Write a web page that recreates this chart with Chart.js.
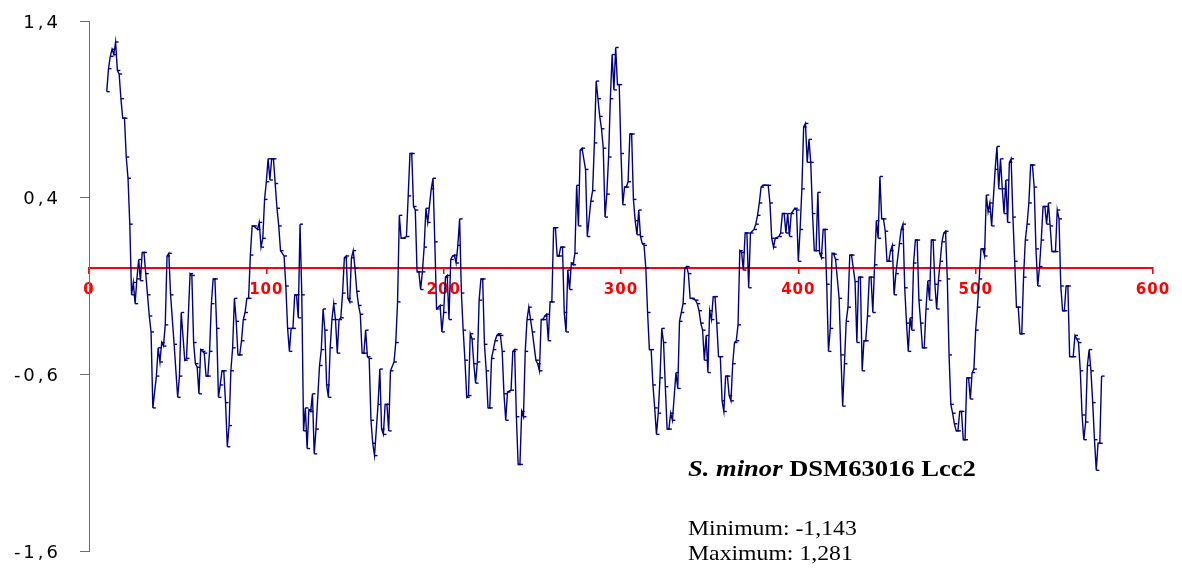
<!DOCTYPE html>
<html>
<head>
<meta charset="utf-8">
<title>Hydropathy profile</title>
<script src="https://cdn.jsdelivr.net/npm/chart.js@4/dist/chart.umd.min.js"></script>
<style>
  html, body { margin: 0; padding: 0; background: #ffffff; }
  #wrap { position: relative; width: 1182px; height: 571px; }
  canvas { display: block; }
</style>
</head>
<body>
<div id="wrap"><canvas id="plot" width="1182" height="571"></canvas></div>
<script>
// Hydropathy score per residue window centre; null = no point drawn (line spans over it)
const firstResidue = 10;
const scores = [
  1.00, 1.13, 1.20, 1.24, 1.21, 1.281, 1.12, 1.10, 0.96, 0.85,
  0.85, 0.63, 0.51, 0.25, -0.15, -0.08, -0.20, -0.06, 0.05, -0.07,
  0.09, 0.09, -0.03, -0.15, -0.27, -0.36, -0.79, null, -0.61, -0.45,
  -0.53, -0.42, -0.44, -0.32, 0.07, 0.085, -0.15, null, -0.43, null,
  -0.73, -0.61, -0.25, null, -0.52, -0.51, null, -0.03, -0.04, -0.42,
  -0.54, -0.56, -0.71, -0.46, -0.47, -0.48, -0.61, -0.61, -0.47, -0.20,
  -0.06, -0.06, -0.34, -0.73, -0.66, -0.58, -0.58, -0.76, -1.01, -0.89,
  -0.58, -0.45, -0.17, -0.30, -0.49, -0.49, -0.41, -0.29, -0.25, -0.17,
  -0.17, 0.075, 0.24, 0.24, null, 0.22, 0.26, 0.12, 0.17, 0.39,
  0.49, 0.62, 0.50, 0.62, 0.62, 0.48, 0.34, 0.24, 0.10, null,
  0.07, -0.10, -0.34, -0.47, -0.34, -0.34, -0.15, -0.15, -0.28, 0.25,
  -0.15, -0.92, -0.79, -1.02, -0.80, -0.81, -0.71, -1.05, -0.91, null,
  -0.55, -0.46, -0.23, -0.35, -0.66, -0.73, -0.45, -0.29, -0.20, -0.29,
  -0.48, -0.29, -0.28, -0.14, 0.06, 0.07, -0.17, -0.19, 0.06, 0.10,
  0.00, -0.13, -0.21, -0.26, -0.48, -0.48, -0.35, -0.50, -0.51, -0.86,
  -0.99, -1.06, null, -0.77, -0.57, -0.91, -0.94, -0.77, -0.77, -0.92,
  -0.58, null, -0.53, -0.42, -0.19, 0.30, 0.17, 0.17, null, 0.18,
  0.41, 0.65, 0.65, 0.35, 0.33, -0.02, -0.02, -0.12, -0.02, 0.12,
  0.34, 0.26, null, 0.45, 0.51, 0.15, -0.23, null, -0.21, -0.36,
  -0.25, -0.05, -0.04, -0.29, 0.05, 0.07, 0.075, 0.03, 0.13, 0.28,
  -0.14, -0.35, -0.52, -0.73, -0.72, -0.37, -0.40, -0.54, -0.65, -0.53,
  -0.18, -0.06, -0.06, -0.43, -0.58, -0.79, -0.79, -0.51, -0.46, -0.41,
  -0.38, -0.37, -0.38, -0.47, -0.71, -0.86, -0.70, null, -0.69, -0.47,
  -0.46, -0.84, -1.11, -1.11, -0.81, -0.84, -0.47, -0.29, -0.22, -0.29,
  -0.36, null, -0.52, -0.54, -0.58, -0.29, -0.29, -0.27, -0.26, -0.41,
  -0.19, -0.19, 0.23, 0.23, 0.07, 0.07, 0.12, 0.12, -0.25, -0.36,
  -0.01, -0.12, 0.03, 0.02, 0.085, 0.47, 0.24, 0.67, 0.68, null,
  0.56, 0.18, null, 0.38, 0.44, 0.71, 1.06, 0.96, 0.86, 0.79,
  0.68, 0.29, 0.42, 0.63, 0.96, 1.21, 1.01, 1.25, 1.04, 1.04,
  0.65, 0.36, 0.46, 0.46, 0.49, 0.76, 0.76, 0.39, 0.27, 0.19,
  0.33, 0.18, 0.14, 0.13, 0.00, -0.25, -0.46, -0.46, -0.66, -0.79,
  -0.94, -0.82, -0.62, -0.34, -0.42, -0.67, -0.91, -0.91, -0.82, -0.86,
  null, -0.59, -0.68, -0.30, -0.25, -0.20, 0.00, 0.01, -0.03, -0.17,
  -0.17, null, -0.18, -0.20, -0.24, -0.31, -0.35, -0.52, -0.38, -0.59,
  -0.24, -0.29, -0.16, -0.16, -0.31, -0.50, -0.50, -0.75, -0.81, -0.61,
  -0.61, -0.72, -0.75, -0.54, -0.42, -0.41, -0.32, 0.10, 0.09, -0.01,
  0.20, 0.20, -0.11, 0.20, null, 0.22, 0.25, 0.30, 0.37, 0.46,
  0.47, 0.47, null, 0.47, 0.37, 0.17, 0.12, 0.17, null, 0.18,
  0.20, 0.31, 0.31, 0.20, 0.31, 0.18, 0.31, null, 0.34, 0.33,
  0.04, 0.22, 0.45, 0.80, 0.82, 0.60, 0.73, 0.60, 0.31, 0.10,
  0.10, 0.43, 0.085, 0.06, 0.22, 0.22, -0.09, -0.47, -0.34, 0.085,
  0.08, 0.05, null, -0.17, -0.49, -0.78, -0.54, -0.30, -0.22, 0.075,
  0.075, null, -0.075, -0.42, -0.05, -0.05, -0.58, -0.41, -0.41, -0.27,
  -0.05, -0.05, -0.25, 0.02, 0.27, 0.17, 0.52, 0.28, 0.28, 0.21,
  0.04, 0.04, 0.10, 0.13, -0.15, -0.03, null, 0.14, 0.22, 0.25,
  -0.11, -0.31, -0.47, -0.28, -0.35, 0.03, 0.16, 0.16, -0.18, -0.31,
  -0.45, -0.45, -0.23, -0.07, -0.18, 0.16, 0.16, -0.09, -0.23, -0.07,
  0.04, 0.15, 0.20, 0.21, -0.06, -0.49, -0.77, -0.82, -0.88, -0.92,
  -0.92, -0.81, -0.81, -0.97, -0.97, -0.62, -0.62, -0.74, -0.59, -0.57,
  -0.35, -0.22, -0.06, 0.11, 0.11, 0.07, 0.415, 0.32, 0.37, 0.24,
  null, 0.56, 0.69, 0.45, 0.62, 0.45, 0.31, 0.50, 0.26, 0.60,
  0.62, 0.29, 0.04, -0.22, -0.22, -0.37, -0.37, -0.05, 0.16, 0.25,
  0.37, 0.585, 0.585, 0.46, 0.11, -0.10, 0.01, 0.16, 0.35, 0.35,
  0.25, 0.37, 0.24, 0.095, 0.095, 0.095, 0.33, 0.28, -0.10, -0.24,
  -0.24, -0.10, -0.10, -0.50, -0.50, -0.50, -0.38, -0.40, -0.42, -0.58,
  -0.83, -0.97, -0.87, -0.55, -0.46, -0.58, -0.76, -0.97, -1.143, -0.99,
  -0.99, -0.61
];

const xTicks = [0, 100, 200, 300, 400, 500, 600];
const yTicks = [-1.6, -0.6, 0.4, 1.4];

const speciesName = 'S. minor';
const strainName = ' DSM63016 Lcc2';

const lineColor = '#000080';
const axisRed = '#ff0000';
const axisGrey = '#6e6e6e';

const fmtComma = (v, d) => v.toFixed(d).replace('.', ',');

const points = scores.map((v, i) => ({ x: firstResidue + i, y: v }));
const present = scores.filter(v => v !== null);
const minScore = Math.min(...present);
const maxScore = Math.max(...present);

// extra letter spacing for the tick labels of each axis
const labelSpacing = {
  id: 'labelSpacing',
  afterLayout(chart) {
    const gaps = { x: '1px', y: '3px' };
    Object.keys(gaps).forEach(id => {
      const sc = chart.scales[id];
      if (!sc || sc.__spaced) return;
      const base = sc.drawLabels;
      sc.drawLabels = function (area) {
        const c = this.ctx;
        const prev = c.letterSpacing;
        c.letterSpacing = gaps[id];
        base.call(this, area);
        c.letterSpacing = prev || '0px';
      };
      sc.__spaced = true;
    });
  }
};

// protein name and extreme values, bottom right
const caption = {
  id: 'caption',
  afterDraw(chart) {
    const c = chart.ctx;
    c.save();
    c.letterSpacing = '0px';
    c.fillStyle = '#000000';
    c.textBaseline = 'alphabetic';
    c.textAlign = 'left';
    c.translate(688, 0);
    c.save();
    c.scale(1.155, 1);
    c.font = 'italic bold 23px "Liberation Serif"';
    c.fillText(speciesName, 0, 476);
    const w = c.measureText(speciesName).width;
    c.font = 'bold 23px "Liberation Serif"';
    c.fillText(strainName, w, 476);
    c.restore();
    c.scale(1.13, 1);
    c.font = '21px "Liberation Serif"';
    c.fillText('Minimum: ' + fmtComma(minScore, 3), 0, 535);
    c.fillText('Maximum: ' + fmtComma(maxScore, 3), 0, 560);
    c.restore();
  }
};

new Chart(document.getElementById('plot'), {
  type: 'line',
  data: {
    datasets: [{
      data: points,
      borderColor: lineColor,
      borderWidth: 1.4,
      tension: 0,
      spanGaps: true,
      fill: false,
      pointStyle: 'dash',
      pointRadius: 3,
      pointBorderWidth: 1.4,
      pointBorderColor: lineColor,
      pointBackgroundColor: lineColor,
      pointHoverRadius: 3
    }]
  },
  options: {
    responsive: false,
    animation: false,
    events: [],
    layout: { padding: { top: 21, right: 29, bottom: 20, left: 0 } },
    plugins: {
      legend: { display: false },
      tooltip: { enabled: false },
      title: { display: false }
    },
    scales: {
      x: {
        type: 'linear',
        position: { y: 0 },
        min: 0,
        max: 600,
        afterBuildTicks: s => { s.ticks = xTicks.map(v => ({ value: v })); },
        grid: {
          drawOnChartArea: false,
          drawTicks: true,
          tickLength: 5,
          color: axisRed,
          lineWidth: 1.5
        },
        border: { display: true, color: axisRed, width: 2 },
        ticks: {
          color: axisRed,
          padding: 8,
          maxRotation: 0,
          autoSkip: false,
          font: { family: '"DejaVu Sans"', size: 15, weight: 'bold' },
          callback: v => String(v)
        }
      },
      y: {
        type: 'linear',
        position: 'left',
        min: -1.6,
        max: 1.4,
        afterBuildTicks: s => { s.ticks = yTicks.map(v => ({ value: v })); },
        afterFit: s => { s.width = 89; s.paddingTop = 0; s.paddingBottom = 0; },
        grid: {
          drawOnChartArea: false,
          drawTicks: true,
          tickLength: 9,
          color: axisGrey,
          lineWidth: 1
        },
        border: { display: true, color: axisGrey, width: 1 },
        ticks: {
          color: '#000000',
          padding: 19,
          labelOffset: 2,
          autoSkip: false,
          font: { family: '"DejaVu Sans"', size: 18 },
          callback: v => fmtComma(v, 1)
        }
      }
    }
  },
  plugins: [labelSpacing, caption]
});
</script>
</body>
</html>
